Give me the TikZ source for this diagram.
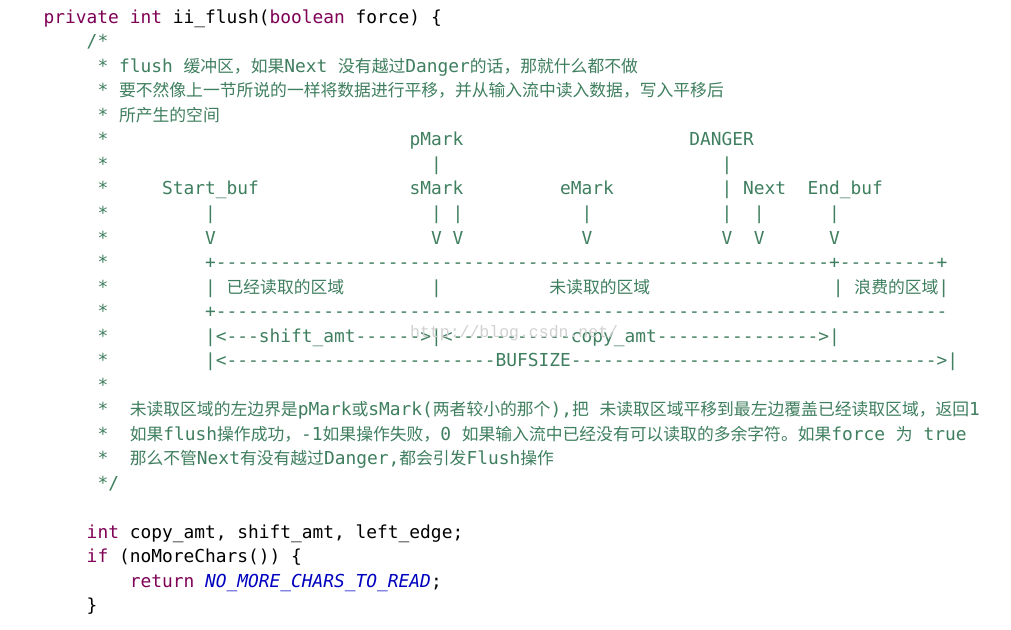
\documentclass[tikz,border=0pt]{standalone}
\usepackage{fontspec}
\newfontfamily\codefont[Ligatures=TeXOff]{DejaVu Sans Mono}
\newfontfamily\cjkfont{Noto Sans CJK SC}
\newfontfamily\markfont{Liberation Mono}
\definecolor{cmtgreen}{HTML}{3F7F5F}
\definecolor{kwpurple}{HTML}{7F0055}
\definecolor{constblue}{HTML}{0000C0}
\newcommand\kw[1]{\textcolor{kwpurple}{#1}}
\newcommand\zh[1]{{\cjkfont\fontsize{16.8}{20}\selectfont #1}}
\newcommand\dashes[1]{\foreach \n in {1,...,#1}{-}}

\begin{document}
\begin{tikzpicture}
        [x=10.76pt,y=-24.5pt,
         every node/.style={anchor=base west,inner sep=0pt,font=\codefont\fontsize{17.87}{21}\selectfont},
         cmt/.style={text=cmtgreen}]
    \useasboundingbox[fill=white] (-4.043,-0.959) rectangle (89.916,24.755);

    % method head and comment text
    \node (head) at (0,0) {\kw{private} \kw{int} ii\_flush(\kw{boolean} force) \{};
    \node[cmt] (open) at (4,1) {/*};
    \foreach \r in {2,...,18}
        \node[cmt] (star\r) at (5,\r) {*};
    \node[cmt] (l2) at (7,2) {flush \zh{缓冲区，如果}Next \zh{没有越过}Danger\zh{的话，那就什么都不做}};
    \node[cmt] (l3) at (7,3) {\zh{要不然像上一节所说的一样将数据进行平移，并从输入流中读入数据，写入平移后}};
    \node[cmt] (l4) at (7,4) {\zh{所产生的空间}};

    % pointers
    \node[cmt] (pmark) at (34,5) {pMark};
    \node[cmt] (danger) at (60,5) {DANGER};
    \node[cmt] (pbar) at (36,6) {|};
    \node[cmt] (dbar) at (63,6) {|};
    \node[cmt] (start) at (11,7) {Start\_buf};
    \node[cmt] (smark) at (34,7) {sMark};
    \node[cmt] (emark) at (48,7) {eMark};
    \node[cmt] (dbar2) at (63,7) {|};
    \node[cmt] (next) at (65,7) {Next};
    \node[cmt] (end) at (71,7) {End\_buf};
    \foreach \c in {15,36,38,50,63,66,73}
    {
        \node[cmt] (bar\c) at (\c,8) {|};
        \node[cmt] (v\c) at (\c,9) {V};
    }

    % buffer
    \node[cmt] (top) at (15,10) {+\dashes{57}+\dashes{9}+};
    \node[cmt] (b1) at (15,11) {|};
    \node[cmt] (read) at (17,11) {\zh{已经读取的区域}};
    \node[cmt] (b2) at (36,11) {|};
    \node[cmt] (unread) at (47,11) {\zh{未读取的区域}};
    \node[cmt] (waste) at (73.35,11) {| \zh{浪费的区域}|};
    \node[cmt] (bottom) at (15,12) {+\dashes{68}};
    \node[cmt] (amts) at (15,13) {|<---shift\_amt------>|<\dashes{11}copy\_amt\dashes{15}>|};
    \node[cmt] (size) at (15,14) {|<\dashes{25}BUFSIZE\dashes{34}>|};

    % return values
    \node[cmt] (l16) at (8,16) {\zh{未读取区域的左边界是}pMark\zh{或}sMark(\zh{两者较小的那个}),\zh{把} \zh{未读取区域平移到最左边覆盖已经读取区域，返回}1};
    \node[cmt] (l17) at (8,17) {\zh{如果}flush\zh{操作成功，}-1\zh{如果操作失败，}0 \zh{如果输入流中已经没有可以读取的多余字符。如果}force \zh{为} true};
    \node[cmt] (l18) at (8,18) {\zh{那么不管}Next\zh{有没有越过}Danger,\zh{都会引发}Flush\zh{操作}};
    \node[cmt] (close) at (5,19) {*/};

    % body
    \node (decl) at (4,21) {\kw{int} copy\_amt, shift\_amt, left\_edge;};
    \node (test) at (4,22) {\kw{if} (noMoreChars()) \{};
    \node (ret) at (8,23) {\kw{return} \textcolor{constblue}{\itshape NO\_MORE\_CHARS\_TO\_READ};};
    \node (brace) at (4,24) {\}};

    \node[text=black!18,font=\markfont\fontsize{16.5}{20}\selectfont] (wm) at (34.06,12.8) {http://blog.csdn.net/};
\end{tikzpicture}
\end{document}
